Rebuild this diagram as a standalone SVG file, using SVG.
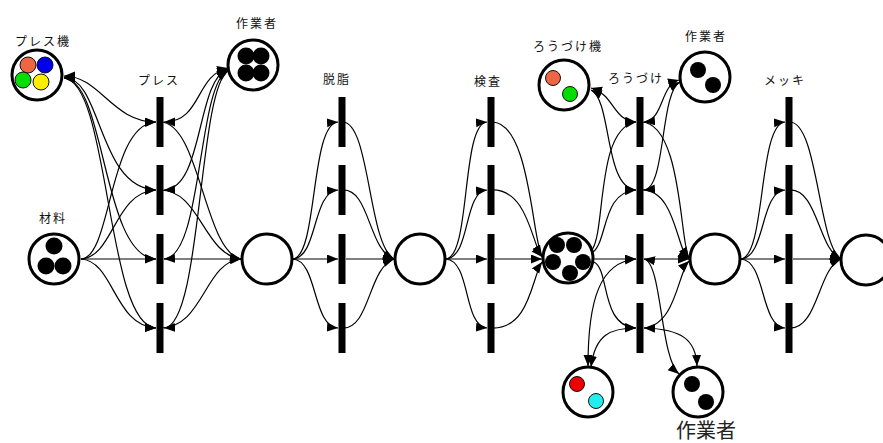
<svg xmlns="http://www.w3.org/2000/svg" width="883" height="443" viewBox="0 0 883 443">
<defs>
<marker id="ah" markerUnits="userSpaceOnUse" markerWidth="12" markerHeight="10" refX="11" refY="4.5" orient="auto-start-reverse">
<path d="M0,0 L11,4.5 L0,9 z" fill="#000"/>
</marker>
<style>
.pl{fill:#fff;stroke:#000;stroke-width:3}
.tk{stroke:#111;stroke-width:1}
.tr{fill:#000}
.lb{font-family:"Noto Sans CJK JP","Noto Sans",sans-serif;font-size:12px;letter-spacing:2px;fill:#111;text-anchor:middle}
.ar path{fill:none;stroke:#000;stroke-width:1.2;marker-end:url(#ah)}
.ar path.bi{marker-start:url(#ah)}
</style>
</defs>
<rect width="883" height="443" fill="#fff"/>

<g id="connectors" class="ar">
<!-- press: material -> bars -->
<path d="M81,259 C112,258 108,124 156,122"/>
<path d="M81,259 C114,257 114,192 156,190"/>
<path d="M81,259 L156,259"/>
<path d="M81,259 C114,261 114,326 156,328"/>
<!-- press machine <-> bars -->
<path class="bi" d="M64,76 C100,76 112,122 156,122"/>
<path class="bi" d="M64,77 C102,78 98,188 156,190"/>
<path class="bi" d="M64,78 C106,80 102,257 156,259"/>
<path class="bi" d="M64,78 C110,82 106,326 156,328"/>
<!-- worker <-> press bars -->
<path class="bi" d="M228,68 C195,75 202,122 164,122"/>
<path class="bi" d="M228,69 C196,80 204,188 164,190"/>
<path class="bi" d="M228,70 C197,85 203,257 164,259"/>
<path class="bi" d="M228,71 C198,90 202,326 164,328"/>
<!-- press bars -> place -->
<path d="M160,122 C200,122 204,252 241,259"/>
<path d="M160,190 C200,190 204,255 241,259"/>
<path d="M164,259 L241,259"/>
<path d="M160,328 C204,328 204,262 241,259"/>

<!-- degreasing -->
<path d="M293,259 C318,256 310,124 338,122"/>
<path d="M293,259 C318,257 312,192 338,190"/>
<path d="M293,259 L338,259"/>
<path d="M293,259 C318,261 312,326 338,328"/>
<path d="M342,122 C370,120 368,245 394,259"/>
<path d="M342,190 C370,188 368,250 394,259"/>
<path d="M346,259 L394,259"/>
<path d="M342,328 C370,330 368,268 394,259"/>

<!-- inspection -->
<path d="M446,259 C471,256 461,124 487,122"/>
<path d="M446,259 C471,257 463,192 487,190"/>
<path d="M446,259 L487,259"/>
<path d="M446,259 C471,261 463,326 487,328"/>
<path d="M491,122 C530,120 532,240 542,256"/>
<path d="M491,190 C528,188 532,245 542,257"/>
<path d="M495,259 L542,259"/>
<path d="M491,328 C530,330 532,276 542,262"/>

<!-- brazing: inputs from 5-token place -->
<path d="M592,250 C606,230 596,128 636,122"/>
<path d="M593,252 C608,240 602,192 636,190"/>
<path d="M594,259 L636,259"/>
<path d="M594,262 C610,270 600,326 636,328"/>
<!-- brazing machine <-> bars 1,2 -->
<path class="bi" d="M591,88 C615,95 612,120 636,122"/>
<path class="bi" d="M591,90 C612,100 604,188 636,190"/>
<!-- alt machine <-> bars 3,4 -->
<path class="bi" d="M588,366 C588,300 600,262 636,259"/>
<path class="bi" d="M591,367 C595,335 610,328 636,328"/>
<!-- worker 2 <-> bars 1,2 -->
<path class="bi" d="M679,80 C660,85 664,120 644,122"/>
<path class="bi" d="M680,82 C660,92 666,188 644,190"/>
<!-- worker 3 <-> bars 3,4 -->
<path class="bi" d="M644,259 C662,262 660,358 679,374"/>
<path class="bi" d="M644,328 C682,329 696,340 697,366"/>
<!-- brazing outputs -->
<path d="M640,122 C682,120 680,245 689,258"/>
<path d="M640,190 C676,188 676,250 689,259"/>
<path d="M644,259 L689,259"/>
<path d="M644,328 C676,325 678,272 689,261"/>

<!-- plating -->
<path d="M741,259 C766,256 758,124 785,122"/>
<path d="M741,259 C766,257 760,192 785,190"/>
<path d="M741,259 L785,259"/>
<path d="M741,259 C766,261 760,326 785,328"/>
<path d="M789,122 C818,120 818,245 841,259"/>
<path d="M789,190 C818,188 818,250 841,259"/>
<path d="M793,259 L841,259"/>
<path d="M789,328 C818,330 818,268 841,259"/>
</g>

<!-- transitions -->
<g id="t-press">
<rect class="tr" x="156.5" y="97" width="7" height="50"/>
<rect class="tr" x="156.5" y="165" width="7" height="50"/>
<rect class="tr" x="156.5" y="234" width="7" height="50"/>
<rect class="tr" x="156.5" y="303" width="7" height="50"/>
<text class="lb" x="159" y="85">プレス</text>
</g>
<g id="t-degrease">
<rect class="tr" x="338.5" y="97" width="7" height="50"/>
<rect class="tr" x="338.5" y="165" width="7" height="50"/>
<rect class="tr" x="338.5" y="234" width="7" height="50"/>
<rect class="tr" x="338.5" y="303" width="7" height="50"/>
<text class="lb" x="337" y="84">脱脂</text>
</g>
<g id="t-inspect">
<rect class="tr" x="487.5" y="97" width="7" height="50"/>
<rect class="tr" x="487.5" y="165" width="7" height="50"/>
<rect class="tr" x="487.5" y="234" width="7" height="50"/>
<rect class="tr" x="487.5" y="303" width="7" height="50"/>
<text class="lb" x="488" y="86">検査</text>
</g>
<g id="t-braze">
<rect class="tr" x="636.5" y="97" width="7" height="50"/>
<rect class="tr" x="636.5" y="165" width="7" height="50"/>
<rect class="tr" x="636.5" y="234" width="7" height="50"/>
<rect class="tr" x="636.5" y="303" width="7" height="50"/>
<text class="lb" x="636" y="83">ろうづけ</text>
</g>
<g id="t-plate">
<rect class="tr" x="785.5" y="97" width="7" height="50"/>
<rect class="tr" x="785.5" y="165" width="7" height="50"/>
<rect class="tr" x="785.5" y="234" width="7" height="50"/>
<rect class="tr" x="785.5" y="303" width="7" height="50"/>
<text class="lb" x="785" y="85">メッキ</text>
</g>

<!-- places -->
<g id="p-pressmachine">
<circle class="pl" cx="37" cy="75" r="25"/>
<circle class="tk" cx="28" cy="65" r="8" fill="#ee6644"/>
<circle class="tk" cx="45" cy="65" r="8" fill="#0000ee"/>
<circle class="tk" cx="23" cy="80" r="8" fill="#00dd00"/>
<circle class="tk" cx="41" cy="82" r="8" fill="#ffee00"/>
<text class="lb" x="43" y="46">プレス機</text>
</g>
<g id="p-worker1">
<circle class="pl" cx="253" cy="65" r="25"/>
<circle cx="246" cy="56" r="8.5" fill="#000"/>
<circle cx="261" cy="56" r="8.5" fill="#000"/>
<circle cx="246" cy="73" r="8.5" fill="#000"/>
<circle cx="261" cy="73" r="8.5" fill="#000"/>
<text class="lb" x="257" y="28">作業者</text>
</g>
<g id="p-material">
<circle class="pl" cx="54" cy="259" r="25"/>
<circle cx="54" cy="246" r="8.5" fill="#000"/>
<circle cx="46" cy="266" r="8.5" fill="#000"/>
<circle cx="63" cy="266" r="8.5" fill="#000"/>
<text class="lb" x="53" y="223">材料</text>
</g>
<g id="p-pressed">
<circle class="pl" cx="267" cy="259" r="25"/>
</g>
<g id="p-degreased">
<circle class="pl" cx="420" cy="259" r="25"/>
</g>
<g id="p-inspected">
<circle class="pl" cx="568" cy="258" r="25"/>
<circle cx="557" cy="245" r="8" fill="#000"/>
<circle cx="574" cy="245" r="8" fill="#000"/>
<circle cx="553" cy="262" r="8" fill="#000"/>
<circle cx="583" cy="262" r="8" fill="#000"/>
<circle cx="570" cy="273" r="8" fill="#000"/>
</g>
<g id="p-brazemachine">
<circle class="pl" cx="564" cy="85" r="25"/>
<circle class="tk" cx="553" cy="78" r="7.5" fill="#ee6644"/>
<circle class="tk" cx="570" cy="94" r="7.5" fill="#00dd00"/>
<text class="lb" x="568" y="51">ろうづけ機</text>
</g>
<g id="p-worker2">
<circle class="pl" cx="705" cy="77" r="25"/>
<circle cx="698" cy="70" r="8" fill="#000"/>
<circle cx="713" cy="85" r="8" fill="#000"/>
<text class="lb" x="706" y="41">作業者</text>
</g>
<g id="p-altmachine">
<circle class="pl" cx="588" cy="392" r="25"/>
<circle class="tk" cx="577" cy="384" r="7.5" fill="#ee0000"/>
<circle class="tk" cx="596" cy="401" r="7.5" fill="#22eeee"/>
</g>
<g id="p-worker3">
<circle class="pl" cx="698" cy="392" r="25"/>
<circle cx="692" cy="384" r="8" fill="#000"/>
<circle cx="706" cy="402" r="8" fill="#000"/>
<text class="lb" x="706" y="438" style="font-size:20px;letter-spacing:0;fill:#222">作業者</text>
</g>
<g id="p-brazed">
<circle class="pl" cx="715" cy="259" r="25"/>
</g>
<g id="p-plated">
<circle class="pl" cx="866" cy="260" r="25"/>
</g>
</svg>
